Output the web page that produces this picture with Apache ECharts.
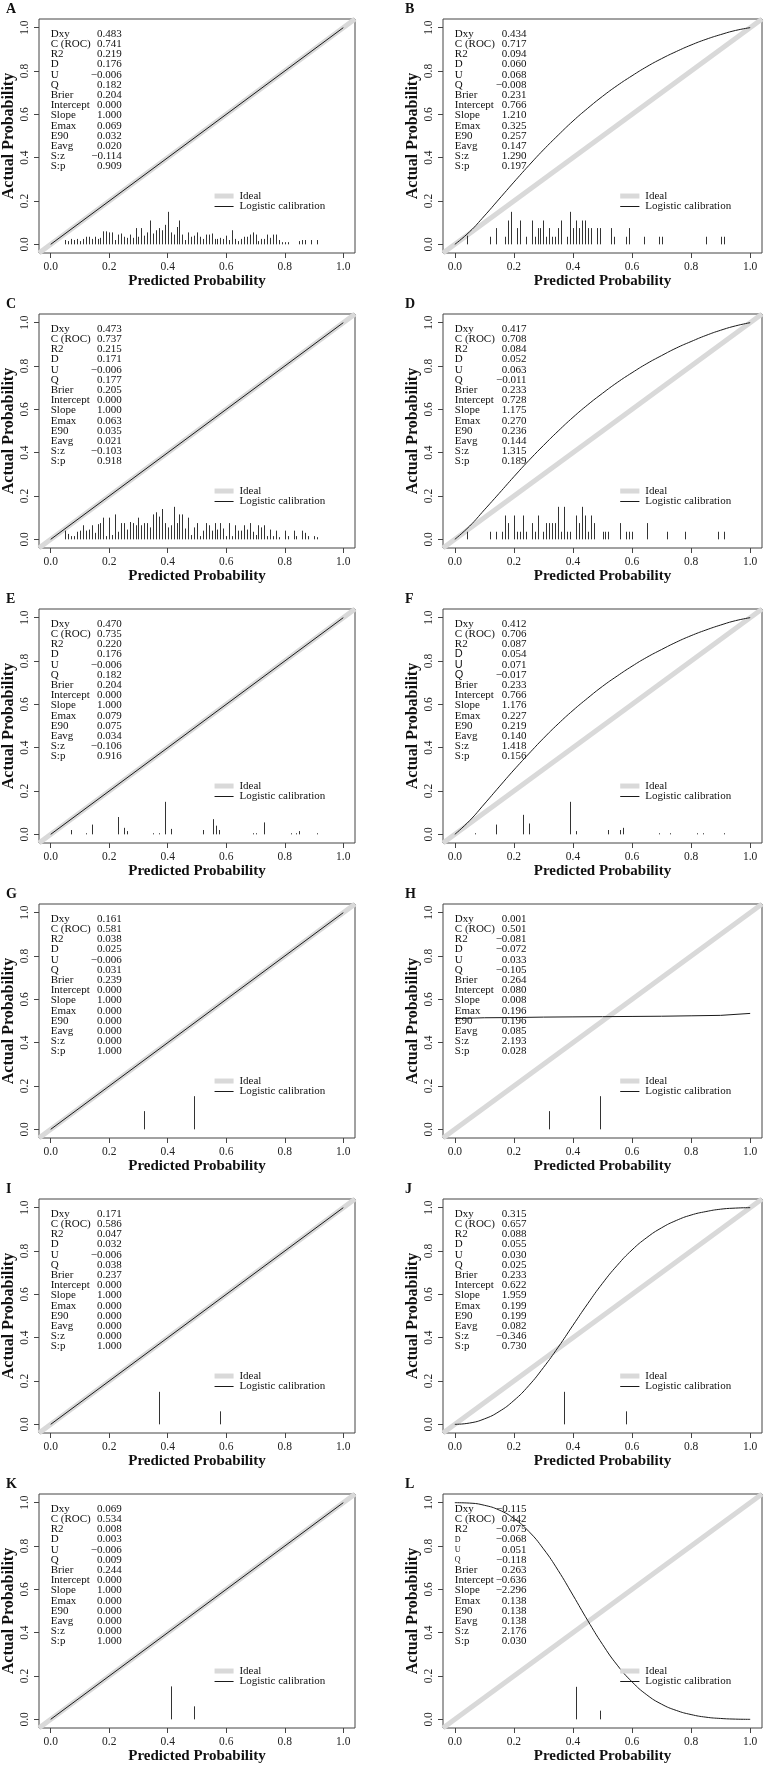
<!DOCTYPE html>
<html>
<head>
<meta charset="utf-8">
<script src="https://cdn.jsdelivr.net/npm/echarts@6/dist/echarts.min.js"></script>
<style>
  html, body { margin: 0; padding: 0; background: #fff; }
  #chart { width: 765px; height: 1770px; }
</style>
</head>
<body>
<div id="chart"></div>
<script>
// panel labels and stat names
var panelLetters = ['A', 'B', 'C', 'D', 'E', 'F', 'G', 'H', 'I', 'J', 'K', 'L'];
var statNames = ['Dxy', 'C (ROC)', 'R2', 'D', 'U', 'Q', 'Brier', 'Intercept', 'Slope', 'Emax', 'E90', 'Eavg', 'S:z', 'S:p'];
var tickValues = [0, 0.2, 0.4, 0.6, 0.8, 1.0];

// stats printed in each panel
var statsA = [0.483, 0.741, 0.219, 0.176, -0.006, 0.182, 0.204, 0.000, 1.000, 0.069, 0.032, 0.020, -0.114, 0.909];
var statsB = [0.434, 0.717, 0.094, 0.060, 0.068, -0.008, 0.231, 0.766, 1.210, 0.325, 0.257, 0.147, 1.290, 0.197];
var statsC = [0.473, 0.737, 0.215, 0.171, -0.006, 0.177, 0.205, 0.000, 1.000, 0.063, 0.035, 0.021, -0.103, 0.918];
var statsD = [0.417, 0.708, 0.084, 0.052, 0.063, -0.011, 0.233, 0.728, 1.175, 0.270, 0.236, 0.144, 1.315, 0.189];
var statsE = [0.470, 0.735, 0.220, 0.176, -0.006, 0.182, 0.204, 0.000, 1.000, 0.079, 0.075, 0.034, -0.106, 0.916];
var statsF = [0.412, 0.706, 0.087, 0.054, 0.071, -0.017, 0.233, 0.766, 1.176, 0.227, 0.219, 0.140, 1.418, 0.156];
var statsG = [0.161, 0.581, 0.038, 0.025, -0.006, 0.031, 0.239, 0.000, 1.000, 0.000, 0.000, 0.000, 0.000, 1.000];
var statsH = [0.001, 0.501, -0.081, -0.072, 0.033, -0.105, 0.264, 0.080, 0.008, 0.196, 0.196, 0.085, 2.193, 0.028];
var statsI = [0.171, 0.586, 0.047, 0.032, -0.006, 0.038, 0.237, 0.000, 1.000, 0.000, 0.000, 0.000, 0.000, 1.000];
var statsJ = [0.315, 0.657, 0.088, 0.055, 0.030, 0.025, 0.233, 0.622, 1.959, 0.199, 0.199, 0.082, -0.346, 0.730];
var statsK = [0.069, 0.534, 0.008, 0.003, -0.006, 0.009, 0.244, 0.000, 1.000, 0.000, 0.000, 0.000, 0.000, 1.000];
var statsL = [-0.115, 0.442, -0.075, -0.068, 0.051, -0.118, 0.263, -0.636, -2.296, 0.138, 0.138, 0.138, 2.176, 0.030];

// logistic calibration curves [predicted, actual], read every 0.05
var idealLine = [[-0.04, -0.04], [1.04, 1.04]];
var curveA = [[0, 0], [1, 1]];
var curveB = [[0, 0], [0.05, 0.058], [0.1, 0.131], [0.15, 0.209], [0.2, 0.287], [0.25, 0.363], [0.3, 0.436], [0.35, 0.504], [0.4, 0.569], [0.45, 0.628], [0.5, 0.683], [0.55, 0.733], [0.6, 0.778], [0.65, 0.820], [0.7, 0.857], [0.75, 0.890], [0.8, 0.920], [0.85, 0.946], [0.9, 0.968], [0.95, 0.987], [1.0, 1.0]];
var curveC = [[0, 0], [1, 1]];
var curveD = [[0, 0], [0.05, 0.061], [0.1, 0.136], [0.15, 0.212], [0.2, 0.289], [0.25, 0.363], [0.3, 0.433], [0.35, 0.500], [0.4, 0.563], [0.45, 0.621], [0.5, 0.674], [0.55, 0.724], [0.6, 0.769], [0.65, 0.811], [0.7, 0.848], [0.75, 0.883], [0.8, 0.913], [0.85, 0.941], [0.9, 0.965], [0.95, 0.985], [1.0, 1.0]];
var curveE = [[0, 0], [1, 1]];
var curveF = [[0, 0], [0.05, 0.063], [0.1, 0.140], [0.15, 0.219], [0.2, 0.297], [0.25, 0.371], [0.3, 0.443], [0.35, 0.510], [0.4, 0.572], [0.45, 0.629], [0.5, 0.683], [0.55, 0.731], [0.6, 0.776], [0.65, 0.817], [0.7, 0.853], [0.75, 0.887], [0.8, 0.917], [0.85, 0.943], [0.9, 0.966], [0.95, 0.986], [1.0, 1.0]];
var curveG = [[0, 0], [1, 1]];
var curveH = [[0.0, 0.511], [0.1, 0.515], [0.2, 0.516], [0.3, 0.518], [0.4, 0.519], [0.5, 0.520], [0.6, 0.521], [0.7, 0.522], [0.8, 0.524], [0.9, 0.526], [1.0, 0.535]];
var curveI = [[0, 0], [1, 1]];
var curveJ = [[0, 0], [0.05, 0.006], [0.1, 0.025], [0.15, 0.059], [0.2, 0.110], [0.25, 0.178], [0.3, 0.262], [0.35, 0.356], [0.4, 0.457], [0.45, 0.557], [0.5, 0.651], [0.55, 0.734], [0.6, 0.805], [0.65, 0.862], [0.7, 0.907], [0.75, 0.941], [0.8, 0.966], [0.85, 0.982], [0.9, 0.993], [0.95, 0.998], [1.0, 1.0]];
var curveK = [[0, 0], [1, 1]];
var curveL = [[0, 1.0], [0.05, 0.998], [0.1, 0.988], [0.15, 0.966], [0.2, 0.927], [0.25, 0.868], [0.3, 0.787], [0.35, 0.687], [0.4, 0.573], [0.45, 0.456], [0.5, 0.346], [0.55, 0.250], [0.6, 0.173], [0.65, 0.113], [0.7, 0.070], [0.75, 0.041], [0.8, 0.022], [0.85, 0.010], [0.9, 0.004], [0.95, 0.001], [1.0, 0.0]];

// spike histograms of predicted probabilities [x, height]
var spikesA = [[0.05,.02],[0.06,.015],[0.07,.025],[0.08,.02],[0.09,.025],[0.10,.015],[0.11,.025],[0.12,.035],[0.13,.035],[0.14,.025],[0.15,.035],[0.16,.025],[0.17,.03],[0.18,.06],[0.19,.06],[0.20,.055],[0.21,.055],[0.22,.02],[0.23,.045],[0.24,.05],[0.25,.035],[0.26,.03],[0.27,.045],[0.28,.03],[0.29,.075],[0.30,.035],[0.31,.075],[0.32,.04],[0.33,.055],[0.34,.11],[0.35,.05],[0.36,.065],[0.37,.075],[0.38,.065],[0.39,.09],[0.40,.15],[0.41,.055],[0.42,.045],[0.43,.08],[0.44,.11],[0.45,.045],[0.46,.02],[0.47,.055],[0.48,.035],[0.49,.04],[0.50,.055],[0.51,.035],[0.52,.025],[0.53,.045],[0.54,.045],[0.55,.05],[0.56,.025],[0.57,.025],[0.58,.03],[0.59,.025],[0.60,.04],[0.61,.02],[0.62,.065],[0.63,.025],[0.64,.015],[0.65,.025],[0.66,.035],[0.67,.035],[0.68,.045],[0.69,.055],[0.70,.045],[0.71,.015],[0.72,.025],[0.73,.025],[0.74,.045],[0.75,.03],[0.76,.045],[0.77,.045],[0.78,.02],[0.79,.01],[0.80,.01],[0.81,.01],[0.85,.015],[0.86,.02],[0.87,.02],[0.89,.02],[0.91,.02]];
var spikesB = [[0.04,.04],[0.12,.035],[0.14,.075],[0.17,.035],[0.18,.11],[0.19,.15],[0.21,.075],[0.22,.11],[0.24,.035],[0.26,.11],[0.27,.035],[0.28,.075],[0.29,.075],[0.30,.11],[0.31,.035],[0.32,.075],[0.33,.035],[0.34,.035],[0.35,.075],[0.36,.11],[0.38,.035],[0.39,.15],[0.40,.075],[0.41,.11],[0.42,.075],[0.43,.11],[0.44,.11],[0.45,.075],[0.46,.075],[0.48,.075],[0.49,.075],[0.53,.075],[0.54,.035],[0.58,.035],[0.59,.075],[0.64,.035],[0.69,.035],[0.70,.035],[0.85,.035],[0.90,.035],[0.91,.035]];
var spikesC = [[0.05,.04],[0.06,.025],[0.07,.015],[0.08,.015],[0.09,.035],[0.10,.04],[0.11,.065],[0.12,.04],[0.13,.045],[0.14,.065],[0.15,.03],[0.16,.07],[0.17,.075],[0.18,.10],[0.19,.015],[0.20,.10],[0.21,.02],[0.22,.115],[0.23,.035],[0.24,.075],[0.25,.075],[0.26,.045],[0.27,.08],[0.28,.075],[0.29,.065],[0.30,.10],[0.31,.065],[0.32,.075],[0.33,.075],[0.34,.055],[0.35,.115],[0.36,.125],[0.37,.105],[0.38,.14],[0.39,.075],[0.40,.055],[0.41,.065],[0.42,.15],[0.43,.075],[0.44,.115],[0.45,.115],[0.46,.05],[0.47,.10],[0.48,.02],[0.49,.055],[0.50,.075],[0.51,.015],[0.52,.04],[0.53,.075],[0.54,.065],[0.55,.04],[0.56,.075],[0.57,.045],[0.58,.075],[0.59,.05],[0.60,.015],[0.61,.075],[0.62,.015],[0.63,.065],[0.64,.04],[0.65,.04],[0.66,.065],[0.67,.045],[0.68,.075],[0.69,.035],[0.70,.02],[0.71,.065],[0.72,.055],[0.73,.065],[0.74,.015],[0.75,.045],[0.76,.015],[0.77,.04],[0.78,.01],[0.80,.04],[0.81,.015],[0.83,.04],[0.84,.015],[0.86,.04],[0.87,.03],[0.88,.015],[0.90,.015],[0.91,.01]];
var spikesD = [[0.04,.035],[0.12,.035],[0.14,.035],[0.16,.035],[0.17,.11],[0.18,.075],[0.20,.11],[0.21,.035],[0.22,.035],[0.23,.11],[0.24,.035],[0.26,.075],[0.27,.035],[0.28,.11],[0.30,.035],[0.31,.075],[0.32,.075],[0.33,.075],[0.34,.075],[0.35,.15],[0.36,.035],[0.37,.15],[0.38,.035],[0.39,.035],[0.41,.11],[0.42,.075],[0.43,.15],[0.44,.11],[0.45,.035],[0.46,.11],[0.47,.075],[0.50,.035],[0.51,.035],[0.52,.035],[0.56,.075],[0.58,.035],[0.59,.035],[0.60,.035],[0.65,.075],[0.72,.035],[0.78,.035],[0.89,.035],[0.91,.035]];
var spikesE = [[0.07,.02],[0.12,.005],[0.14,.045],[0.23,.08],[0.25,.03],[0.26,.015],[0.35,.005],[0.37,.005],[0.39,.15],[0.41,.025],[0.52,.02],[0.555,.07],[0.565,.04],[0.575,.02],[0.69,.005],[0.70,.005],[0.73,.055],[0.82,.005],[0.84,.005],[0.85,.015],[0.91,.005]];
var spikesF = [[0.07,.005],[0.14,.045],[0.23,.09],[0.25,.05],[0.39,.15],[0.41,.015],[0.52,.02],[0.56,.02],[0.57,.03],[0.69,.005],[0.73,.005],[0.82,.005],[0.84,.005],[0.91,.005]];
var spikesG = [[0.32,.084],[0.49,.153]];
var spikesH = [[0.32,.084],[0.49,.153]];
var spikesI = [[0.37,.15],[0.58,.06]];
var spikesJ = [[0.37,.15],[0.58,.06]];
var spikesK = [[0.41,.152],[0.49,.06]];
var spikesL = [[0.41,.15],[0.49,.04]];

var allStats = [statsA, statsB, statsC, statsD, statsE, statsF, statsG, statsH, statsI, statsJ, statsK, statsL];
var allCurves = [curveA, curveB, curveC, curveD, curveE, curveF, curveG, curveH, curveI, curveJ, curveK, curveL];
var allSpikes = [spikesA, spikesB, spikesC, spikesD, spikesE, spikesF, spikesG, spikesH, spikesI, spikesJ, spikesK, spikesL];

var SERIF = "'Liberation Serif', 'Times New Roman', serif";
var ROW_PITCH = 295, BOX_TOP = 19, BOX_H = 234;
var COL_LEFT = [39, 443], COL_W = [316, 319];

var chart = echarts.init(document.getElementById('chart'), null, { renderer: 'canvas' });

var grids = [], xAxes = [], yAxes = [], series = [];

panelLetters.forEach(function (letter, i) {
  var row = Math.floor(i / 2), col = i % 2;
  grids.push({
    left: COL_LEFT[col], width: COL_W[col],
    top: BOX_TOP + row * ROW_PITCH, height: BOX_H,
    show: true, borderColor: '#444', borderWidth: 1, backgroundColor: 'transparent'
  });
  xAxes.push({
    type: 'value', gridIndex: i, min: -0.04, max: 1.04,
    name: 'Predicted Probability', nameLocation: 'middle', nameGap: 20,
    nameTextStyle: { fontFamily: SERIF, fontWeight: 'bold', fontSize: 15, color: '#111' },
    axisLine: { show: false, onZero: false },
    axisTick: { show: true, inside: false, length: 5, customValues: tickValues, lineStyle: { color: '#444' } },
    axisLabel: { customValues: tickValues, margin: 8, fontFamily: SERIF, fontSize: 11.5, color: '#222',
      formatter: function (v) { return v.toFixed(1); } },
    splitLine: { show: false }
  });
  yAxes.push({
    type: 'value', gridIndex: i, min: -0.04, max: 1.04,
    name: 'Actual Probability', nameLocation: 'middle', nameGap: 22,
    nameTextStyle: { fontFamily: SERIF, fontWeight: 'bold', fontSize: 16, color: '#111' },
    axisLine: { show: false, onZero: false },
    axisTick: { show: true, inside: false, length: 5, customValues: tickValues, lineStyle: { color: '#444' } },
    axisLabel: { customValues: tickValues, rotate: 90, margin: 8, fontFamily: SERIF, fontSize: 11.5, color: '#222',
      formatter: function (v) { return v.toFixed(1); } },
    splitLine: { show: false }
  });
  series.push({
    name: 'Ideal', type: 'line', xAxisIndex: i, yAxisIndex: i,
    data: idealLine, symbol: 'none', silent: true, z: 1,
    lineStyle: { color: '#d9d9d9', width: 5 }
  });
  series.push({
    name: 'Logistic calibration', type: 'line', xAxisIndex: i, yAxisIndex: i,
    data: allCurves[i], symbol: 'none', silent: true, z: 3,
    smooth: allCurves[i].length > 12 ? 0.5 : false,
    lineStyle: { color: '#1a1a1a', width: 1 }
  });
  series.push({
    name: 'spikes', type: 'custom', xAxisIndex: i, yAxisIndex: i,
    data: allSpikes[i], silent: true, z: 2,
    encode: { x: 0, y: 1 },
    renderItem: function (params, api) {
      var p0 = api.coord([api.value(0), 0]);
      var p1 = api.coord([api.value(0), api.value(1)]);
      var x = Math.round(p0[0]) + 0.5;
      return { type: 'line', shape: { x1: x, y1: p0[1], x2: x, y2: p1[1] },
        style: { stroke: '#333', lineWidth: 1 } };
    }
  });
});

chart.setOption({
  animation: false,
  backgroundColor: '#fff',
  grid: grids, xAxis: xAxes, yAxis: yAxes, series: series
});

// text blocks: stats, legend and panel letters, placed through the axes
function fmt(v) {
  var s = Math.abs(v).toFixed(3);
  return v < 0 ? '\u2212' + s : s;
}
var graphics = [];
panelLetters.forEach(function (letter, i) {
  var row = Math.floor(i / 2), col = i % 2;
  var finder = { xAxisIndex: i, yAxisIndex: i };
  var nameLines = statNames.map(function (n, k) {
    var st = 'n';
    if (letter === 'F' && (k === 3 || k === 4 || k === 5)) st = 's';
    if (letter === 'L' && (k === 3 || k === 4 || k === 5)) st = 't';
    return '{' + st + '|' + n + '}';
  });
  var rich = {
    n: { fontFamily: SERIF, fontSize: 11, lineHeight: 10.2, fill: '#111' },
    s: { fontFamily: "'Liberation Sans', Arial, sans-serif", fontSize: 11, lineHeight: 10.2, fill: '#111' },
    t: { fontFamily: SERIF, fontSize: 8, lineHeight: 10.2, fill: '#111' }
  };
  var pLab = chart.convertToPixel(finder, [0.0, 0.995]);
  var pVal = chart.convertToPixel(finder, [0.243, 0.995]);
  graphics.push({
    type: 'text', x: pLab[0], y: pLab[1], z: 10, silent: true,
    style: { text: nameLines.join('\n'), rich: rich, align: 'left', verticalAlign: 'top' }
  });
  graphics.push({
    type: 'text', x: pVal[0], y: pVal[1], z: 10, silent: true,
    style: { text: allStats[i].map(fmt).join('\n'), fontFamily: SERIF, fontSize: 11, lineHeight: 10.2,
      fill: '#111', align: 'right', verticalAlign: 'top' }
  });
  // legend
  var a1 = chart.convertToPixel(finder, [0.56, 0.223]);
  var a2 = chart.convertToPixel(finder, [0.625, 0.223]);
  var b1 = chart.convertToPixel(finder, [0.56, 0.178]);
  var b2 = chart.convertToPixel(finder, [0.625, 0.178]);
  var t1 = chart.convertToPixel(finder, [0.645, 0.223]);
  var t2 = chart.convertToPixel(finder, [0.645, 0.178]);
  graphics.push({ type: 'line', silent: true, z: 10,
    shape: { x1: a1[0], y1: a1[1], x2: a2[0], y2: a2[1] }, style: { stroke: '#d9d9d9', lineWidth: 5 } });
  graphics.push({ type: 'line', silent: true, z: 10,
    shape: { x1: b1[0], y1: Math.round(b1[1]) + 0.5, x2: b2[0], y2: Math.round(b2[1]) + 0.5 }, style: { stroke: '#1a1a1a', lineWidth: 1 } });
  graphics.push({ type: 'text', x: t1[0], y: t1[1], silent: true, z: 10,
    style: { text: 'Ideal', fontFamily: SERIF, fontSize: 11, fill: '#111', align: 'left', verticalAlign: 'middle' } });
  graphics.push({ type: 'text', x: t2[0], y: t2[1], silent: true, z: 10,
    style: { text: 'Logistic calibration', fontFamily: SERIF, fontSize: 11, fill: '#111', align: 'left', verticalAlign: 'middle' } });
  // panel letter
  graphics.push({ type: 'text', x: col === 0 ? 6 : 405, y: row * ROW_PITCH + 9, silent: true,
    style: { text: letter, fontFamily: SERIF, fontWeight: 'bold', fontSize: 14, fill: '#111', align: 'left', verticalAlign: 'middle' } });
});
chart.setOption({ graphic: graphics });
</script>
</body>
</html>
